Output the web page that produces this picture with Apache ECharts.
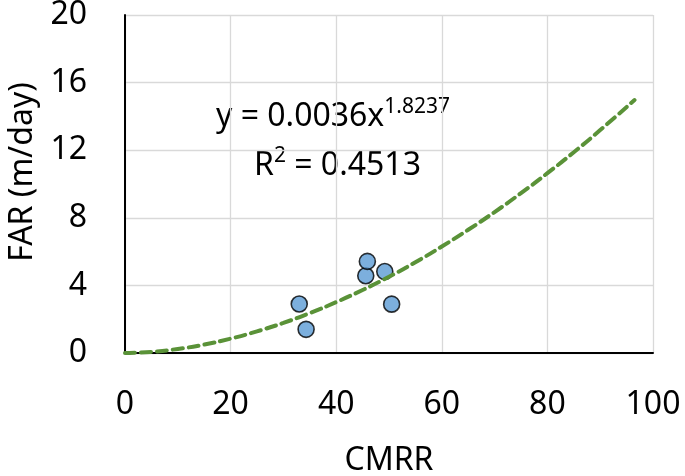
<!DOCTYPE html>
<html>
<head>
<meta charset="utf-8">
<script src="https://cdn.jsdelivr.net/npm/echarts@6/dist/echarts.min.js"></script>
<style>
  html, body { margin: 0; padding: 0; background: #fff; }
  #chart { width: 685px; height: 476px; }
</style>
</head>
<body>
<div id="chart"></div>
<script>
// measured points (CMRR vs FAR)
var cmrr = [33.0, 34.3, 45.6, 45.9, 49.2, 50.5]
var far = [2.9, 1.4, 4.57, 5.42, 4.82, 2.89]

// power trendline y = 0.0036x^1.8237, values read at these x positions
var trendX = [0, 5, 10, 15, 20, 25, 30, 35, 40, 45, 50, 55, 60, 65, 70, 75, 80, 85, 90, 96.5]
var trendY = [0, 0.068, 0.24, 0.50, 0.85, 1.28, 1.78, 2.36, 3.01, 3.73, 4.51, 5.37, 6.30, 7.29, 8.34, 9.46, 10.64, 11.88, 13.19, 14.97]

var xTicks = [0, 20, 40, 60, 80, 100]
var yTicks = [0, 4, 8, 12, 16, 20]

var font = 'Noto Sans'

var points = cmrr.map(function (x, i) { return [x, far[i]] })
var trend = trendX.map(function (x, i) { return [x, trendY[i]] })

var chart = echarts.init(document.getElementById('chart'))
chart.setOption({
  animation: false,
  backgroundColor: '#fff',
  grid: { left: 125, right: 32, top: 15, bottom: 123, containLabel: false, outerBoundsMode: 'none' },
  xAxis: {
    type: 'value',
    min: xTicks[0],
    max: xTicks[xTicks.length - 1],
    interval: 20,
    name: 'CMRR',
    nameLocation: 'middle',
    nameGap: 92,
    nameTextStyle: { fontFamily: font, fontSize: 32, color: '#000' },
    axisLine: { show: true, lineStyle: { color: '#000', width: 2 } },
    axisTick: { show: false },
    axisLabel: { margin: 36, fontFamily: font, fontSize: 32, color: '#000' },
    splitLine: { show: true, lineStyle: { color: '#d9d9d9', width: 1.3 } }
  },
  yAxis: {
    type: 'value',
    min: yTicks[0],
    max: yTicks[yTicks.length - 1],
    interval: 4,
    name: 'FAR (m/day)',
    nameLocation: 'middle',
    nameGap: 86,
    nameTextStyle: { fontFamily: font, fontSize: 32, color: '#000', padding: [0, 0, 0, 24] },
    axisLine: { show: true, lineStyle: { color: '#000', width: 2 } },
    axisTick: { show: false },
    axisLabel: { margin: 38, fontFamily: font, fontSize: 32, color: '#000' },
    splitLine: { show: true, lineStyle: { color: '#d9d9d9', width: 1.3 } }
  },
  series: [
    {
      name: 'data',
      type: 'scatter',
      data: points,
      symbolSize: 16,
      z: 2,
      itemStyle: { color: '#5b9bd5', borderColor: '#000', borderWidth: 1.6 }
    },
    {
      name: 'trend',
      type: 'line',
      data: trend,
      smooth: true,
      showSymbol: false,
      z: 3,
      lineStyle: { color: '#5a9238', width: 4, type: [10, 6], cap: 'round' }
    }
  ],
  graphic: [
    {
      type: 'text',
      left: 216,
      top: 97,
      style: {
        text: '{a|y = 0.0036x}{s|1.8237}',
        rich: {
          a: { fontFamily: font, fontSize: 32, fill: '#000', lineHeight: 40 },
          s: { fontFamily: font, fontSize: 21, fill: '#000', verticalAlign: 'top', lineHeight: 22 }
        }
      }
    },
    {
      type: 'text',
      left: 254,
      top: 146,
      style: {
        text: '{a|R}{s|2}{a| = 0.4513}',
        rich: {
          a: { fontFamily: font, fontSize: 32, fill: '#000', lineHeight: 40 },
          s: { fontFamily: font, fontSize: 21, fill: '#000', verticalAlign: 'top', lineHeight: 22 }
        }
      }
    }
  ]
})
</script>
</body>
</html>
